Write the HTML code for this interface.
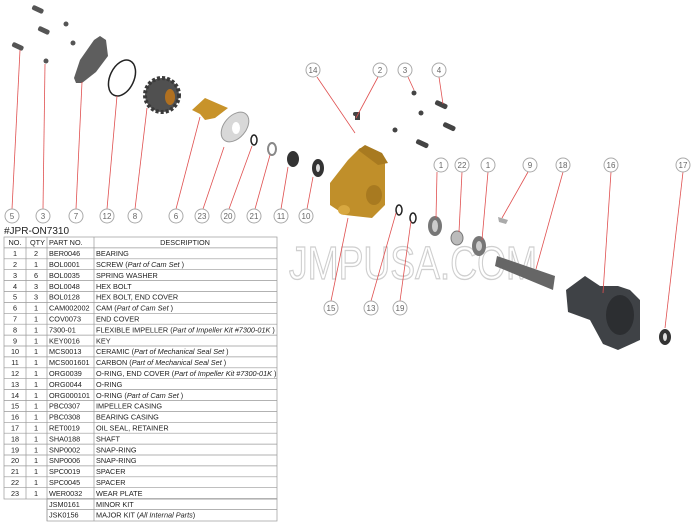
<!DOCTYPE html>
<html><head><meta charset="utf-8"><style>
html,body{margin:0;padding:0;background:#fff;}
svg{display:block;font-family:"Liberation Sans",sans-serif;}
.b circle{fill:#fff;stroke:#aaa;stroke-width:1;}
.b text{font-size:8px;fill:#666;text-anchor:middle;}
.l{stroke:#e05050;stroke-width:0.8;fill:none;}
.t text{font-size:7.3px;fill:#222;}
.t line{stroke:#999;stroke-width:0.7;}
</style></head><body>
<svg width="700" height="525" viewBox="0 0 700 525">
<text x="289" y="279" font-size="46" fill="#fff" stroke="#cfcfcf" stroke-width="1.3" textLength="248" lengthAdjust="spacingAndGlyphs">JMPUSA.COM</text>

<g fill="#555">
<rect x="32" y="7" width="12" height="5" rx="2" transform="rotate(25 38 9)"/>
<rect x="38" y="28" width="12" height="5" rx="2" transform="rotate(25 44 30)"/>
<rect x="12" y="44" width="12" height="5" rx="2" transform="rotate(25 18 46)"/>
<circle cx="66" cy="24" r="2.5"/><circle cx="73" cy="43" r="2.5"/><circle cx="46" cy="61" r="2.5"/>
</g>
<path d="M74 78 L80 60 L94 40 L100 36 L106 40 L108 56 L96 72 L82 83 L76 83 Z" fill="#5e5e5e"/>
<ellipse cx="122" cy="78" rx="12" ry="19" transform="rotate(25 122 78)" fill="none" stroke="#222" stroke-width="1.5"/>
<circle cx="162" cy="95" r="17" fill="#505050" stroke="#3a3a3a" stroke-width="4" stroke-dasharray="3 2"/>
<ellipse cx="170" cy="97" rx="5" ry="8" fill="#b07020"/>
<path d="M192 110 L205 98 L228 108 L215 118 L205 120 L200 114 Z" fill="#c8932a"/>
<ellipse cx="235" cy="127" rx="11" ry="17" transform="rotate(40 235 127)" fill="#d8d8d8" stroke="#999"/>
<ellipse cx="236" cy="128" rx="4" ry="6" fill="#fff"/>
<ellipse cx="254" cy="140" rx="3" ry="5" fill="none" stroke="#222" stroke-width="1.5"/>
<ellipse cx="272" cy="149" rx="4" ry="6" fill="none" stroke="#888" stroke-width="2"/>
<ellipse cx="293" cy="159" rx="6" ry="8" fill="#333"/>
<ellipse cx="318" cy="168" rx="6" ry="9" fill="#333"/><ellipse cx="318" cy="168" rx="2" ry="4" fill="#ddd"/>

<g fill="#444">
<circle cx="355" cy="114" r="2"/><circle cx="414" cy="93" r="2.5"/><circle cx="421" cy="113" r="2.5"/><circle cx="395" cy="130" r="2.5"/>
<rect x="355" y="112" width="5" height="8" />
<rect x="435" y="102" width="13" height="5" rx="2" transform="rotate(25 441 104)"/>
<rect x="443" y="124" width="13" height="5" rx="2" transform="rotate(25 449 126)"/>
<rect x="416" y="141" width="13" height="5" rx="2" transform="rotate(25 422 143)"/>
</g>

<path d="M330 183 L348 160 L360 148 L372 150 L385 160 L385 205 L372 218 L345 215 L330 205 Z" fill="#c08f2a"/>
<path d="M358 150 L365 145 L382 153 L388 163 L378 165 Z" fill="#a87a20"/>
<ellipse cx="374" cy="195" rx="8" ry="10" fill="#a87a20"/>
<ellipse cx="344" cy="210" rx="6" ry="5" fill="#d8a840"/>
<ellipse cx="399" cy="210" rx="3" ry="5" fill="none" stroke="#222" stroke-width="1.5"/>
<ellipse cx="413" cy="218" rx="3" ry="5" fill="none" stroke="#222" stroke-width="1.5"/>
<ellipse cx="435" cy="226" rx="7" ry="10" fill="#777"/><ellipse cx="435" cy="226" rx="3" ry="6" fill="#ccc"/>
<ellipse cx="457" cy="238" rx="6" ry="7" fill="#bbb" stroke="#777"/>
<ellipse cx="479" cy="246" rx="7" ry="10" fill="#777"/><ellipse cx="479" cy="246" rx="3" ry="5" fill="#ccc"/>
<path d="M498 217 L508 220 L506 224 L499 222 Z" fill="#aaa"/>
<path d="M497 256 L555 276 L553 290 L495 266 Z" fill="#666"/>
<path d="M566 290 L585 276 L600 286 L618 286 L630 290 L640 300 L640 340 L618 350 L603 344 L590 320 L568 312 Z" fill="#3f4246"/>
<ellipse cx="620" cy="315" rx="14" ry="20" fill="#2c2e31"/>
<ellipse cx="665" cy="337" rx="6" ry="8" fill="#333"/><ellipse cx="665" cy="337" rx="2" ry="4" fill="#ddd"/>

<g class="l">
<line x1="12" y1="209" x2="20" y2="50"/><line x1="43" y1="209" x2="45" y2="64"/>
<line x1="76" y1="209" x2="82" y2="82"/><line x1="107" y1="209" x2="117" y2="96"/>
<line x1="135" y1="209" x2="147" y2="108"/><line x1="176" y1="209" x2="200" y2="117"/>
<line x1="203" y1="209" x2="224" y2="147"/><line x1="229" y1="209" x2="252" y2="146"/>
<line x1="255" y1="209" x2="270" y2="155"/><line x1="281" y1="209" x2="288" y2="167"/>
<line x1="307" y1="209" x2="313" y2="177"/>
<line x1="317" y1="77" x2="355" y2="133"/><line x1="378" y1="77" x2="356" y2="118"/>
<line x1="408" y1="77" x2="414" y2="90"/><line x1="439" y1="77" x2="443" y2="104"/>
<line x1="437" y1="172" x2="436" y2="218"/><line x1="462" y1="172" x2="459" y2="232"/>
<line x1="488" y1="172" x2="482" y2="240"/><line x1="528" y1="172" x2="502" y2="218"/>
<line x1="563" y1="172" x2="536" y2="269"/><line x1="611" y1="172" x2="603" y2="293"/>
<line x1="683" y1="172" x2="665" y2="328"/>
<line x1="331" y1="301" x2="348" y2="218"/><line x1="371" y1="301" x2="396" y2="213"/>
<line x1="400" y1="301" x2="411" y2="221"/>
</g>

<g class="b">
<g><circle cx="12" cy="216" r="7"/><text x="12" y="219">5</text></g>
<g><circle cx="43" cy="216" r="7"/><text x="43" y="219">3</text></g>
<g><circle cx="76" cy="216" r="7"/><text x="76" y="219">7</text></g>
<g><circle cx="107" cy="216" r="7"/><text x="107" y="219">12</text></g>
<g><circle cx="135" cy="216" r="7"/><text x="135" y="219">8</text></g>
<g><circle cx="176" cy="216" r="7"/><text x="176" y="219">6</text></g>
<g><circle cx="202" cy="216" r="7"/><text x="202" y="219">23</text></g>
<g><circle cx="228" cy="216" r="7"/><text x="228" y="219">20</text></g>
<g><circle cx="254" cy="216" r="7"/><text x="254" y="219">21</text></g>
<g><circle cx="281" cy="216" r="7"/><text x="281" y="219">11</text></g>
<g><circle cx="306" cy="216" r="7"/><text x="306" y="219">10</text></g>
<g><circle cx="313" cy="70" r="7"/><text x="313" y="73">14</text></g>
<g><circle cx="380" cy="70" r="7"/><text x="380" y="73">2</text></g>
<g><circle cx="405" cy="70" r="7"/><text x="405" y="73">3</text></g>
<g><circle cx="439" cy="70" r="7"/><text x="439" y="73">4</text></g>
<g><circle cx="441" cy="165" r="7"/><text x="441" y="168">1</text></g>
<g><circle cx="462" cy="165" r="7"/><text x="462" y="168">22</text></g>
<g><circle cx="488" cy="165" r="7"/><text x="488" y="168">1</text></g>
<g><circle cx="530" cy="165" r="7"/><text x="530" y="168">9</text></g>
<g><circle cx="563" cy="165" r="7"/><text x="563" y="168">18</text></g>
<g><circle cx="611" cy="165" r="7"/><text x="611" y="168">16</text></g>
<g><circle cx="683" cy="165" r="7"/><text x="683" y="168">17</text></g>
<g><circle cx="331" cy="308" r="7"/><text x="331" y="311">15</text></g>
<g><circle cx="371" cy="308" r="7"/><text x="371" y="311">13</text></g>
<g><circle cx="400" cy="308" r="7"/><text x="400" y="311">19</text></g>
</g>

<text x="4" y="234" font-size="10" fill="#222">#JPR-ON7310</text>
<g class="t">
<rect x="4" y="237" width="273" height="262" fill="none" stroke="#999" stroke-width="0.7"/>
<rect x="47" y="499" width="230" height="22" fill="none" stroke="#999" stroke-width="0.7"/>
<line x1="26" y1="237" x2="26" y2="499"/><line x1="47" y1="237" x2="47" y2="521"/><line x1="94" y1="237" x2="94" y2="521"/>
<g id="rows"></g>
</g>
</svg>
<script>
var d=[["NO.","QTY","PART NO.","DESCRIPTION"],["1","2","BER0046","BEARING"],["2","1","BOL0001","SCREW (<i>Part of Cam Set</i> )"],["3","6","BOL0035","SPRING WASHER"],["4","3","BOL0048","HEX BOLT"],["5","3","BOL0128","HEX BOLT, END COVER"],["6","1","CAM002002","CAM (<i>Part of Cam Set</i> )"],["7","1","COV0073","END COVER"],["8","1","7300-01","FLEXIBLE IMPELLER (<i>Part of Impeller Kit #7300-01K</i> )"],["9","1","KEY0016","KEY"],["10","1","MCS0013","CERAMIC (<i>Part of Mechanical Seal Set</i> )"],["11","1","MCS001601","CARBON (<i>Part of Mechanical Seal Set</i> )"],["12","1","ORG0039","O-RING, END COVER (<i>Part of Impeller Kit #7300-01K</i> )"],["13","1","ORG0044","O-RING"],["14","1","ORG000101","O-RING (<i>Part of Cam Set</i> )"],["15","1","PBC0307","IMPELLER CASING"],["16","1","PBC0308","BEARING CASING"],["17","1","RET0019","OIL SEAL, RETAINER"],["18","1","SHA0188","SHAFT"],["19","1","SNP0002","SNAP-RING"],["20","1","SNP0006","SNAP-RING"],["21","1","SPC0019","SPACER"],["22","1","SPC0045","SPACER"],["23","1","WER0032","WEAR PLATE"],["","","JSM0161","MINOR KIT"],["","","JSK0156","MAJOR KIT (<i>All Internal Parts</i>)"]];
var h="",rh=10.9,y0=237;
for(var i=0;i<d.length;i++){var y=y0+i*rh,ty=y+8.2;
if(i>0)h+='<line x1="'+(i>=24?47:4)+'" y1="'+y+'" x2="277" y2="'+y+'"/>';
if(i==0){h+='<text x="15" y="'+ty+'" text-anchor="middle">NO.</text><text x="30" y="'+ty+'">QTY</text><text x="49" y="'+ty+'">PART NO.</text><text x="185" y="'+ty+'" text-anchor="middle">DESCRIPTION</text>';}
else{h+='<text x="15" y="'+ty+'" text-anchor="middle">'+d[i][0]+'</text><text x="36" y="'+ty+'" text-anchor="middle">'+d[i][1]+'</text><text x="49" y="'+ty+'">'+d[i][2]+'</text><text x="96" y="'+ty+'">'+d[i][3].replace(/<i>/g,'<tspan font-style="italic">').replace(/<\/i>/g,'</tspan>')+'</text>';}}
document.getElementById('rows').innerHTML=h;
</script>
</body></html>
